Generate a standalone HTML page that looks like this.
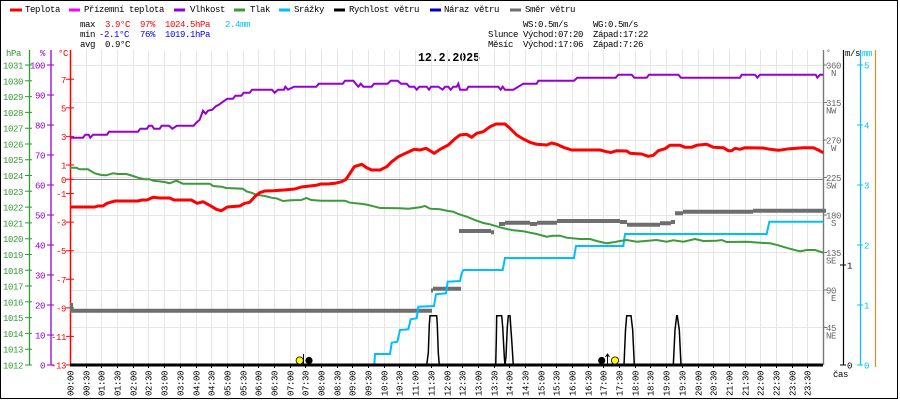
<!DOCTYPE html>
<html><head><meta charset="utf-8"><style>
html,body{margin:0;padding:0;background:#fff;}
svg{display:block;}
text{font-family:"Liberation Mono",monospace;font-size:9px;letter-spacing:-0.4px;}
.g{fill:#339933}.p{fill:#9400d3}.r{fill:#ff0000}.b{fill:#0000ee}.c{fill:#00bfff}.k{fill:#000}.gr{fill:#666}
</style></head><body>
<svg width="900" height="400" viewBox="0 0 900 400" xmlns="http://www.w3.org/2000/svg">
<rect x="0" y="0" width="900" height="400" fill="#fff"/>
<rect x="0.5" y="0.5" width="897" height="398" fill="none" stroke="#000" stroke-width="1"/>

<!-- legend -->
<g stroke-width="3">
<line x1="10" y1="10" x2="22" y2="10" stroke="#ff0000"/>
<line x1="69" y1="10" x2="80" y2="10" stroke="#ff00ff"/>
<line x1="174" y1="10" x2="185" y2="10" stroke="#9400d3"/>
<line x1="234" y1="10" x2="245" y2="10" stroke="#3c9a3c"/>
<line x1="279" y1="10" x2="290" y2="10" stroke="#00bfff"/>
<line x1="334" y1="10" x2="345" y2="10" stroke="#000"/>
<line x1="430" y1="10" x2="441" y2="10" stroke="#0000cc"/>
<line x1="510" y1="10" x2="521" y2="10" stroke="#6e6e6e"/>
</g>
<text x="25" y="12" class="k">Teplota</text>
<text x="84" y="12" class="k">Přízemní teplota</text>
<text x="190" y="12" class="k">Vlhkost</text>
<text x="250" y="12" class="k">Tlak</text>
<text x="294" y="12" class="k">Srážky</text>
<text x="349" y="12" class="k">Rychlost větru</text>
<text x="444" y="12" class="k">Náraz větru</text>
<text x="525" y="12" class="k">Směr větru</text>

<!-- stats -->
<text x="80" y="27" class="k">max</text>
<text x="105" y="27" class="r">3.9°C</text>
<text x="140" y="27" class="r">97%</text>
<text x="165" y="27" class="r">1024.5hPa</text>
<text x="225" y="27" class="c">2.4mm</text>
<text x="80" y="37" class="k">min</text>
<text x="99" y="37" class="b">-2.1°C</text>
<text x="140" y="37" class="b">76%</text>
<text x="165" y="37" class="b">1019.1hPa</text>
<text x="80" y="47" class="k">avg</text>
<text x="105" y="47" class="k">0.9°C</text>

<text x="523" y="27" class="k">WS:0.5m/s</text>
<text x="593" y="27" class="k">WG:0.5m/s</text>
<text x="488" y="37" class="k">Slunce</text>
<text x="523" y="37" class="k">Východ:07:20</text>
<text x="593" y="37" class="k">Západ:17:22</text>
<text x="488" y="47" class="k">Měsíc</text>
<text x="523" y="47" class="k">Východ:17:06</text>
<text x="593" y="47" class="k">Západ:7:26</text>

<text x="418" y="61" style="font-size:11.5px;font-weight:bold;letter-spacing:0" textLength="62" class="k">12.2.2025</text>

<!-- grid -->
<path stroke="#e6e6e6" stroke-width="1" fill="none" d="M86.5 50V365M101.5 50V365M117.5 50V365M133.5 50V365M148.5 50V365M164.5 50V365M180.5 50V365M196.5 50V365M211.5 50V365M227.5 50V365M243.5 50V365M258.5 50V365M274.5 50V365M290.5 50V365M305.5 50V365M321.5 50V365M337.5 50V365M352.5 50V365M368.5 50V365M384.5 50V365M399.5 50V365M415.5 50V365M431.5 50V365M447.5 50V365M462.5 50V365M478.5 50V365M494.5 50V365M509.5 50V365M525.5 50V365M541.5 50V365M556.5 50V365M572.5 50V365M588.5 50V365M603.5 50V365M619.5 50V365M635.5 50V365M650.5 50V365M666.5 50V365M682.5 50V365M698.5 50V365M713.5 50V365M729.5 50V365M745.5 50V365M760.5 50V365M776.5 50V365M792.5 50V365M807.5 50V365
M70 65.5H823M70 102.5H823M70 140.5H823M70 177.5H823M70 215.5H823M70 252.5H823M70 290.5H823M70 327.5H823"/>
<line x1="70" y1="179.5" x2="823" y2="179.5" stroke="#808080" stroke-width="1"/>

<!-- bottom half-hour ticks -->
<path stroke="#000" stroke-width="1" d="M86.5 365V368M101.5 365V368M117.5 365V368M133.5 365V368M148.5 365V368M164.5 365V368M180.5 365V368M196.5 365V368M211.5 365V368M227.5 365V368M243.5 365V368M258.5 365V368M274.5 365V368M290.5 365V368M305.5 365V368M321.5 365V368M337.5 365V368M352.5 365V368M368.5 365V368M384.5 365V368M399.5 365V368M415.5 365V368M431.5 365V368M447.5 365V368M462.5 365V368M478.5 365V368M494.5 365V368M509.5 365V368M525.5 365V368M541.5 365V368M556.5 365V368M572.5 365V368M588.5 365V368M603.5 365V368M619.5 365V368M635.5 365V368M650.5 365V368M666.5 365V368M682.5 365V368M698.5 365V368M713.5 365V368M729.5 365V368M745.5 365V368M760.5 365V368M776.5 365V368M792.5 365V368M807.5 365V368"/>

<!-- left axes -->
<text x="6" y="56" class="g">hPa</text>
<text x="40" y="56" class="p">%</text>
<text x="58" y="56" class="r">°C</text>
<line x1="29.5" y1="50" x2="29.5" y2="365" stroke="#339933" stroke-width="1.3"/>
<line x1="51" y1="50" x2="51" y2="365" stroke="#9400d3" stroke-width="1.3"/>
<line x1="70.5" y1="50" x2="70.5" y2="365" stroke="#ff0000" stroke-width="1.5"/>

<path stroke="#339933" stroke-width="1" d="M25 65H32M25 80.8H32M25 96.6H32M25 112.4H32M25 128.2H32M25 144H32M25 159.7H32M25 175.5H32M25 191.3H32M25 207.1H32M25 222.9H32M25 238.7H32M25 254.5H32M25 270.3H32M25 286H32M25 301.8H32M25 317.6H32M25 333.4H32M25 349.2H32M25 365H32"/>
<g class="g" text-anchor="end">
<text x="23" y="68.5">1031</text><text x="23" y="84.3">1030</text><text x="23" y="100.1">1029</text><text x="23" y="115.9">1028</text><text x="23" y="131.7">1027</text><text x="23" y="147.5">1026</text><text x="23" y="163.2">1025</text><text x="23" y="179">1024</text><text x="23" y="194.8">1023</text><text x="23" y="210.6">1022</text><text x="23" y="226.4">1021</text><text x="23" y="242.2">1020</text><text x="23" y="258">1019</text><text x="23" y="273.8">1018</text><text x="23" y="289.5">1017</text><text x="23" y="305.3">1016</text><text x="23" y="321.1">1015</text><text x="23" y="336.9">1014</text><text x="23" y="352.7">1013</text><text x="23" y="368.5">1012</text>
</g>
<path stroke="#9400d3" stroke-width="1" d="M47 65H54M47 95H54M47 125H54M47 155H54M47 185H54M47 215H54M47 245H54M47 275H54M47 305H54M47 335H54M47 365H54"/>
<g class="p" text-anchor="end">
<text x="45" y="68.5">100</text><text x="45" y="98.5">90</text><text x="45" y="128.5">80</text><text x="45" y="158.5">70</text><text x="45" y="188.5">60</text><text x="45" y="218.5">50</text><text x="45" y="248.5">40</text><text x="45" y="278.5">30</text><text x="45" y="308.5">20</text><text x="45" y="338.5">10</text><text x="45" y="368.5">0</text>
</g>
<path stroke="#ff0000" stroke-width="1" d="M66 79.3H74M66 107.9H74M66 136.4H74M66 165H74M66 179.3H74M66 193.6H74M66 222.1H74M66 250.7H74M66 279.3H74M66 307.9H74M66 336.4H74M66 365H74"/>
<g class="r" text-anchor="end">
<text x="66" y="82.8">7</text><text x="66" y="111.4">5</text><text x="66" y="139.9">3</text><text x="66" y="168.5">1</text><text x="66" y="182.8">0</text><text x="66" y="197.1">-1</text><text x="66" y="225.6">-3</text><text x="66" y="254.2">-5</text><text x="66" y="282.8">-7</text><text x="66" y="311.4">-9</text><text x="66" y="339.9">-11</text><text x="66" y="368.5">-13</text>
</g>

<!-- right axes -->
<line x1="823.5" y1="50" x2="823.5" y2="365" stroke="#777" stroke-width="1.4"/>
<line x1="843.5" y1="50" x2="843.5" y2="365" stroke="#000" stroke-width="1.2"/>
<line x1="860.5" y1="50" x2="860.5" y2="365" stroke="#00bfff" stroke-width="1.2"/>
<line x1="875.5" y1="50" x2="875.5" y2="367" stroke="#e08a30" stroke-width="1.2"/>
<text x="826" y="55" class="gr" style="font-size:8px">°</text>
<text x="845" y="56" class="k">m/s</text>
<text x="862" y="56" class="c">mm</text>
<path stroke="#777" stroke-width="1" d="M823 65H827M823 102.5H827M823 140H827M823 177.5H827M823 215H827M823 252.5H827M823 290H827M823 327.5H827"/>
<g class="gr">
<text x="826" y="68.5">360</text><text x="831" y="76">N</text>
<text x="826" y="106">315</text><text x="826" y="113.5">NW</text>
<text x="826" y="143.5">270</text><text x="831" y="151">W</text>
<text x="826" y="181">225</text><text x="826" y="188.5">SW</text>
<text x="826" y="218.5">180</text><text x="831" y="226">S</text>
<text x="826" y="256">135</text><text x="826" y="263.5">SE</text>
<text x="826" y="293.5">90</text><text x="831" y="301">E</text>
<text x="826" y="331">45</text><text x="826" y="338.5">NE</text>
</g>
<path stroke="#000" stroke-width="1" d="M840 265H846M840 365H846"/>
<text x="847" y="268.5" class="k">1</text>
<text x="847" y="368.5" class="k">0</text>
<path stroke="#00bfff" stroke-width="1" d="M857 65H863M857 125H863M857 185H863M857 245H863M857 305H863M857 365H863"/>
<g class="c">
<text x="864" y="68.5">5</text><text x="864" y="128.5">4</text><text x="864" y="188.5">3</text><text x="864" y="248.5">2</text><text x="864" y="308.5">1</text><text x="864" y="368.5">0</text>
</g>
<text x="833" y="377" class="k">čas</text>

<!-- x labels -->
<g class="k" text-anchor="end">
<text transform="translate(70.5,371) rotate(-90)" y="3">00:00</text>
<text transform="translate(86.5,371) rotate(-90)" y="3">00:30</text>
<text transform="translate(101.5,371) rotate(-90)" y="3">01:00</text>
<text transform="translate(117.5,371) rotate(-90)" y="3">01:30</text>
<text transform="translate(133.5,371) rotate(-90)" y="3">02:00</text>
<text transform="translate(148.5,371) rotate(-90)" y="3">02:30</text>
<text transform="translate(164.5,371) rotate(-90)" y="3">03:00</text>
<text transform="translate(180.5,371) rotate(-90)" y="3">03:30</text>
<text transform="translate(196.5,371) rotate(-90)" y="3">04:00</text>
<text transform="translate(211.5,371) rotate(-90)" y="3">04:30</text>
<text transform="translate(227.5,371) rotate(-90)" y="3">05:00</text>
<text transform="translate(243.5,371) rotate(-90)" y="3">05:30</text>
<text transform="translate(258.5,371) rotate(-90)" y="3">06:00</text>
<text transform="translate(274.5,371) rotate(-90)" y="3">06:30</text>
<text transform="translate(290.5,371) rotate(-90)" y="3">07:00</text>
<text transform="translate(305.5,371) rotate(-90)" y="3">07:30</text>
<text transform="translate(321.5,371) rotate(-90)" y="3">08:00</text>
<text transform="translate(337.5,371) rotate(-90)" y="3">08:30</text>
<text transform="translate(352.5,371) rotate(-90)" y="3">09:00</text>
<text transform="translate(368.5,371) rotate(-90)" y="3">09:30</text>
<text transform="translate(384.5,371) rotate(-90)" y="3">10:00</text>
<text transform="translate(399.5,371) rotate(-90)" y="3">10:30</text>
<text transform="translate(415.5,371) rotate(-90)" y="3">11:00</text>
<text transform="translate(431.5,371) rotate(-90)" y="3">11:30</text>
<text transform="translate(447.5,371) rotate(-90)" y="3">12:00</text>
<text transform="translate(462.5,371) rotate(-90)" y="3">12:30</text>
<text transform="translate(478.5,371) rotate(-90)" y="3">13:00</text>
<text transform="translate(494.5,371) rotate(-90)" y="3">13:30</text>
<text transform="translate(509.5,371) rotate(-90)" y="3">14:00</text>
<text transform="translate(525.5,371) rotate(-90)" y="3">14:30</text>
<text transform="translate(541.5,371) rotate(-90)" y="3">15:00</text>
<text transform="translate(556.5,371) rotate(-90)" y="3">15:30</text>
<text transform="translate(572.5,371) rotate(-90)" y="3">16:00</text>
<text transform="translate(588.5,371) rotate(-90)" y="3">16:30</text>
<text transform="translate(603.5,371) rotate(-90)" y="3">17:00</text>
<text transform="translate(619.5,371) rotate(-90)" y="3">17:30</text>
<text transform="translate(635.5,371) rotate(-90)" y="3">18:00</text>
<text transform="translate(650.5,371) rotate(-90)" y="3">18:30</text>
<text transform="translate(666.5,371) rotate(-90)" y="3">19:00</text>
<text transform="translate(682.5,371) rotate(-90)" y="3">19:30</text>
<text transform="translate(698.5,371) rotate(-90)" y="3">20:00</text>
<text transform="translate(713.5,371) rotate(-90)" y="3">20:30</text>
<text transform="translate(729.5,371) rotate(-90)" y="3">21:00</text>
<text transform="translate(745.5,371) rotate(-90)" y="3">21:30</text>
<text transform="translate(760.5,371) rotate(-90)" y="3">22:00</text>
<text transform="translate(776.5,371) rotate(-90)" y="3">22:30</text>
<text transform="translate(792.5,371) rotate(-90)" y="3">23:00</text>
<text transform="translate(807.5,371) rotate(-90)" y="3">23:30</text>
</g>

<!-- wind direction -->
<g stroke="#6e6e6e" stroke-width="4" fill="none">
<rect x="70" y="303" width="3" height="6" fill="#6e6e6e" stroke="none"/>
<path d="M70 310.7H432"/>
<path d="M431 290.5H433M433 288.7H461"/>
<path d="M459 231H491M491 232.3H494M494 231H494"/>
<path d="M499 224H505M505 222.7H530M530 224H537M537 222.7H557M557 221H620"/>
<path d="M620 222H627M627 224.7H660M660 223.3H671M671 222H675"/>
<path d="M675 213.3H683M683 211.7H753M753 210.7H826"/>
</g>

<!-- rain -->
<polyline fill="none" stroke="#00bfff" stroke-width="2" points="374.3,365 375,354 390,354 391.7,342.7 397.3,341.7 400,330 408.3,329.3 410.7,319.3 416.7,318.3 418.3,306.7 434,306 436,294.3 446,293.3 447.7,281.7 460,281 461.7,273.3 463.3,270 502.7,270 505,258 574,258 576,246 623.3,246 625,234 766.7,234 769.3,221.7 823.3,221.7"/>

<!-- pressure -->
<polyline fill="none" stroke="#3c9a3c" stroke-width="2" points="70,168.5 71.3,167.7 76.3,167.7 79.7,169.3 88,169.3 94.7,173.3 101.3,175 106.3,175.3 113,173.3 118,174 126.3,174 133,176 138,177.7 144,179.3 149.7,179.3 153,180.7 164.7,182 169.7,183.3 176.3,180.7 183,183.7 209.7,183.7 213,186 221.3,186.7 226.3,188 243,188.7 246.3,191.3 251.3,192.7 256.3,194.7 264.7,196 271.3,197.7 276.3,198.3 283,201 291.3,200.3 301.3,200 306.3,198 311.3,200 321.3,200.7 345,200.7 350,202.7 363.3,204 368.3,205 375,206.7 380,208 400,208.3 408.3,208.7 420,207.3 425,206 430,208.7 440,209.3 448.3,211 453.3,211.7 458.3,214 466.7,216.7 476.7,220.7 483.3,223 490,224.3 500,227.3 508.3,229.3 513.3,230.3 523.3,231.3 528.3,232.3 536.7,234 546.7,236.7 553.3,235.7 560,235.7 566.7,237.7 580,239 590,239 596.7,241 606.7,243.3 613.3,242.3 620,241 626.7,240 636.7,241.7 656.7,240 666.7,241.7 673.3,240.3 683.3,241.7 695,239 703.3,241 716.7,240.7 721.7,240 726.7,242 746.7,241.7 760,242.7 770,243.3 778.3,245.3 788.3,248.3 800,251.3 806.7,250 815,250 823.3,252.7"/>

<!-- humidity -->
<polyline fill="none" stroke="#9400d3" stroke-width="2" points="70,137.7 83,137.7 85.3,134.7 88.7,134.7 90.3,137.7 93,134.7 107,134.7 109,131.7 138,131.7 140.3,128.7 147,128.7 149,125.7 152,125.7 154,128.7 159.7,128.7 161.7,125.7 169,125.7 172.3,128.7 177,125.7 193.7,125.7 196.3,122.7 199.7,119.7 203,110.7 205.7,113.7 208,110.7 212.3,109.7 215.7,106.3 219,104.7 223,101.7 227.3,98.7 233,98.7 235.3,95.7 241.3,95.7 243.7,92.7 249.7,92.7 252,89.7 272,89.7 274.7,92.7 278,89.7 284,89.7 285.3,86.7 288,89.7 294,86.7 316.3,86.7 318.7,83.7 342.7,83.7 345,80.7 353.3,80.7 358.3,86.7 360.7,83.7 363.3,86.7 371.7,86.7 374,83.7 387.7,83.7 390.7,80.7 397.7,80.7 401,83.7 406.7,83.7 409.3,86.7 414.3,86.7 416.7,89.7 419.3,86.7 426.7,86.7 429,89.7 431,86.7 438.3,86.7 442.7,89.7 445,86.7 448.3,86.7 450.7,89.7 453.3,86.7 456.7,86.7 458.3,83.7 460,89.7 466.7,89.7 468.3,86.7 498.3,86.7 500.7,89.7 502.7,86.7 505,89.7 513.3,89.7 523.3,83.7 536.7,83.7 538.3,80.7 574,80.7 577.3,77.7 615.7,77.7 618.3,74.7 631.7,74.7 634.3,77.7 646.7,77.7 649,74.7 678.3,74.7 681,77.7 740,77.7 741.7,74.7 755,74.7 757.3,77.7 760,74.7 815.7,74.7 817.3,77.7 820,74.7 823.3,74.7"/>

<!-- temperature -->
<polyline fill="none" stroke="#ff0000" stroke-width="3" stroke-linejoin="round" points="70,207 94.7,207 98,206 103,206 107,203.3 111.3,202 115.3,201 138,201 142,200 147,200 153,197.3 159.7,198 169.7,198 174,200 191.3,200 197.3,203.3 203,201.7 209.7,205.3 216.3,209.3 221.3,210.7 227.3,207 239.7,206 244.7,203.3 249.7,202.3 254.7,196.7 259.7,192.7 264.7,191 273,190.7 284,190 294.7,189 301.3,187 316.3,185.3 320.7,184 328,184 335,183.3 341.7,181.7 346,179.3 350,173.3 354.3,166.7 361.7,164.3 366.7,167.7 371.7,170 380,170 386.7,166.7 391.7,161.7 398.3,156.7 406.7,152.7 414.3,149.3 420,150 426,148.3 430,150.7 434.3,153.3 440,149.3 448.3,145 455,138.7 460,135 466.7,134.3 471.7,137.3 476.7,133.3 483.3,131.7 490,126.7 496,124 505,124 510,128.3 516.7,135 523.3,139 530,142.3 536.7,144.3 546.7,145 551.7,143 556.7,144.3 563.3,147.3 571.7,150 580,150 600,150 606.7,151.7 611,152.5 616.7,150.7 626.7,151 630,153.3 641.7,154 648.3,156.3 653.3,155.3 658.3,150.7 665,148.7 670,145.3 680,145.3 685,147.3 691.7,147.3 696.7,145.3 706.7,144.3 713.3,147.3 723.3,147.7 728.3,150.7 731.7,150.7 735,148.3 740,149.3 745,147.7 763.3,148 770,149.3 778.3,150.3 790,148.7 803.3,147.7 813.3,147.7 818.3,150 823.3,152.7"/>

<!-- wind speed -->
<line x1="70" y1="365" x2="823" y2="365" stroke="#000" stroke-width="3"/>
<g fill="none" stroke="#000" stroke-width="1.5">
<polyline points="426.7,365 428.3,353 429.3,325 430,315.7 436.7,315.7 437.3,325 438.3,353 439.3,365"/>
<polyline points="495.7,365 496.3,340 496.7,315.7 501.7,315.7 502.7,327 504.3,356.7 505,365 506,356.7 507.3,327 508.3,315.7 510,315.7 511.7,340 513.3,365"/>
<polyline points="624,365 625.5,330 626.7,315.7 631,315.7 632.7,330 634.3,365"/>
<polyline points="673.3,365 675,330 676.7,315.7 677.3,315.7 679.3,330 681,365"/>
</g>

<!-- sun / moon -->
<circle cx="299.7" cy="360.5" r="3.6" fill="#ffff00" stroke="#000" stroke-width="0.8"/>
<line x1="303.5" y1="354" x2="303.5" y2="365" stroke="#000" stroke-width="1"/>
<circle cx="309" cy="360.5" r="3.6" fill="#000"/>
<circle cx="601.7" cy="360.5" r="3.6" fill="#000"/>
<line x1="607.5" y1="355" x2="607.5" y2="365" stroke="#000" stroke-width="1"/>
<path d="M605.5 357L607.5 354L609.5 357" fill="none" stroke="#000" stroke-width="1"/>
<circle cx="615" cy="360.5" r="3.6" fill="#ffff00" stroke="#000" stroke-width="0.8"/>
</svg>
</body></html>
